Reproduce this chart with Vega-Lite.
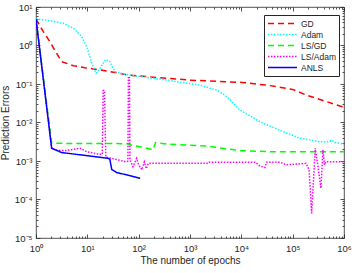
{
  "$schema": "https://vega.github.io/schema/vega-lite/v6.json",
  "width": 308,
  "height": 231,
  "autosize": "none",
  "padding": {"left": 36, "top": 7, "right": 10, "bottom": 35},
  "background": "white",
  "config": {
    "font": "Liberation Sans",
    "view": {"stroke": "#262626", "strokeWidth": 0.8},
    "axis": {"grid": false, "domain": false, "labelColor": "#262626", "titleColor": "#262626", "tickColor": "#262626", "labelFontSize": 9.5, "titleFontSize": 10, "titleFontWeight": "normal", "tickWidth": 0.8}
  },
  "data": {"values": [
    {"s":"GD","x":1,"y":4.9},{"s":"GD","x":1.387,"y":2.29},{"s":"GD","x":1.862,"y":1.259},{"s":"GD","x":2.512,"y":0.631},{"s":"GD","x":3.162,"y":0.38},{"s":"GD","x":5.37,"y":0.2985},{"s":"GD","x":8.91,"y":0.265},{"s":"GD","x":17.78,"y":0.231},{"s":"GD","x":37.15,"y":0.197},{"s":"GD","x":61.66,"y":0.171},{"s":"GD","x":100,"y":0.162},{"s":"GD","x":350.8,"y":0.141},{"s":"GD","x":1000,"y":0.126},{"s":"GD","x":10233,"y":0.11},{"s":"GD","x":31623,"y":0.0933},{"s":"GD","x":100000,"y":0.0724},{"s":"GD","x":186209,"y":0.0513},{"s":"GD","x":831764,"y":0.0269},{"s":"GD","x":1000000,"y":0.0251},
    {"s":"Adam","x":1,"y":4.9},{"s":"Adam","x":1.862,"y":4.42},{"s":"Adam","x":3.388,"y":3.77},{"s":"Adam","x":5.37,"y":2.8},{"s":"Adam","x":7.76,"y":1.698},{"s":"Adam","x":9.77,"y":0.933},{"s":"Adam","x":12.16,"y":0.347},{"s":"Adam","x":14.79,"y":0.1905},{"s":"Adam","x":17.78,"y":0.257},{"s":"Adam","x":22.9,"y":0.437},{"s":"Adam","x":27.5,"y":0.38},{"s":"Adam","x":34.7,"y":0.209},{"s":"Adam","x":43.65,"y":0.1905},{"s":"Adam","x":67.6,"y":0.17},{"s":"Adam","x":354.8,"y":0.126},{"s":"Adam","x":1549,"y":0.0933},{"s":"Adam","x":3311,"y":0.0692},{"s":"Adam","x":5248,"y":0.0468},{"s":"Adam","x":9333,"y":0.0211},{"s":"Adam","x":22909,"y":0.01047},{"s":"Adam","x":56234,"y":0.00631},{"s":"Adam","x":138038,"y":0.00389},{"s":"Adam","x":338844,"y":0.00316},{"s":"Adam","x":501187,"y":0.00316},{"s":"Adam","x":575440,"y":0.00347},{"s":"Adam","x":660693,"y":0.00302},{"s":"Adam","x":1000000,"y":0.00275},
    {"s":"LS/GD","x":1,"y":4.9},{"s":"LS/GD","x":2.02,"y":0.00288},{"s":"LS/GD","x":58.6,"y":0.00282},{"s":"LS/GD","x":67.6,"y":0.00263},{"s":"LS/GD","x":126,"y":0.00224},{"s":"LS/GD","x":190.5,"y":0.00195},{"s":"LS/GD","x":213.8,"y":0.00302},{"s":"LS/GD","x":363,"y":0.00275},{"s":"LS/GD","x":2089,"y":0.00245},{"s":"LS/GD","x":9333,"y":0.00186},{"s":"LS/GD","x":41687,"y":0.00174},{"s":"LS/GD","x":1000000,"y":0.00174},
    {"s":"LS/Adam","x":1,"y":4.9},{"s":"LS/Adam","x":2.02,"y":0.00214},{"s":"LS/Adam","x":2.51,"y":0.0019},{"s":"LS/Adam","x":3.8,"y":0.00186},{"s":"LS/Adam","x":7.24,"y":0.00214},{"s":"LS/Adam","x":9.77,"y":0.00174},{"s":"LS/Adam","x":16.6,"y":0.00151},{"s":"LS/Adam","x":19.5,"y":0.00148},{"s":"LS/Adam","x":20.4,"y":0.0676},{"s":"LS/Adam","x":21.6,"y":0.0676},{"s":"LS/Adam","x":22.9,"y":0.00126},{"s":"LS/Adam","x":27.5,"y":0.0012},{"s":"LS/Adam","x":57.5,"y":0.00095},{"s":"LS/Adam","x":61.7,"y":0.001},{"s":"LS/Adam","x":63.1,"y":0.1445},{"s":"LS/Adam","x":66.1,"y":0.1445},{"s":"LS/Adam","x":67.6,"y":0.00107},{"s":"LS/Adam","x":77.6,"y":0.000708},{"s":"LS/Adam","x":91.2,"y":0.00117},{"s":"LS/Adam","x":100,"y":0.000794},{"s":"LS/Adam","x":114.8,"y":0.000589},{"s":"LS/Adam","x":128.8,"y":0.00095},{"s":"LS/Adam","x":141,"y":0.00063},{"s":"LS/Adam","x":155,"y":0.00087},{"s":"LS/Adam","x":2239,"y":0.00087},{"s":"LS/Adam","x":2344,"y":0.000933},{"s":"LS/Adam","x":18621,"y":0.000933},{"s":"LS/Adam","x":22909,"y":0.000741},{"s":"LS/Adam","x":28840,"y":0.000676},{"s":"LS/Adam","x":30903,"y":0.000933},{"s":"LS/Adam","x":56234,"y":0.000933},{"s":"LS/Adam","x":75858,"y":0.000794},{"s":"LS/Adam","x":181970,"y":0.00087},{"s":"LS/Adam","x":208930,"y":0.000589},{"s":"LS/Adam","x":234423,"y":0.0000437},{"s":"LS/Adam","x":275423,"y":0.00214},{"s":"LS/Adam","x":316228,"y":0.00063},{"s":"LS/Adam","x":354813,"y":0.000195},{"s":"LS/Adam","x":389045,"y":0.00195},{"s":"LS/Adam","x":416869,"y":0.000794},{"s":"LS/Adam","x":436516,"y":0.00095},{"s":"LS/Adam","x":1000000,"y":0.00095},
    {"s":"ANLS","x":1,"y":4.9},{"s":"ANLS","x":2.02,"y":0.00214},{"s":"ANLS","x":3.16,"y":0.00166},{"s":"ANLS","x":25.7,"y":0.00117},{"s":"ANLS","x":27.5,"y":0.0011},{"s":"ANLS","x":29.85,"y":0.000603},{"s":"ANLS","x":37.15,"y":0.000501},{"s":"ANLS","x":67.6,"y":0.000417},{"s":"ANLS","x":107,"y":0.000355}
  ]},
  "layer": [
    {
      "mark": {"type": "line", "clip": true},
      "encoding": {
        "x": {"field": "x", "type": "quantitative", "scale": {"type": "log", "domain": [1, 1000000]},
          "axis": {"orient": "bottom", "values": [1,10,100,1000,10000,100000,1000000], "ticks": false, "labelPadding": 5, "labelFlush": false, "labelOverlap": false,
            "labelExpr": "'10' + (datum.value < 1 ? '⁻' : '') + substring('⁰¹²³⁴⁵⁶⁷⁸⁹', abs(round(log(datum.value)/LN10)), abs(round(log(datum.value)/LN10)) + 1)",
            "title": "The number of epochs", "titlePadding": 3}},
        "y": {"field": "y", "type": "quantitative", "scale": {"type": "log", "domain": [0.00001, 10]},
          "axis": {"orient": "left", "values": [0.00001,0.0001,0.001,0.01,0.1,1,10], "ticks": false, "labelPadding": 4, "labelFlush": false, "labelOverlap": false,
            "labelExpr": "'10' + (datum.value < 1 ? '⁻' : '') + substring('⁰¹²³⁴⁵⁶⁷⁸⁹', abs(round(log(datum.value)/LN10)), abs(round(log(datum.value)/LN10)) + 1)",
            "title": "Prediction Errors", "titlePadding": 4}},
        "color": {"field": "s", "type": "nominal",
          "scale": {"domain": ["GD","Adam","LS/GD","LS/Adam","ANLS"], "range": ["#ff0000","#00ffff","#00ff00","#ff00ff","#0000ff"]},
          "legend": {"title": null, "orient": "none", "legendX": 228, "legendY": 8, "strokeColor": "#262626", "fillColor": "white", "padding": 3, "labelFontSize": 8.5, "labelColor": "#262626", "symbolSize": 841, "symbolStrokeWidth": 1.5, "symbolType": "stroke", "clipHeight": 11, "rowPadding": 0, "labelOffset": 3}},
        "strokeDash": {"field": "s", "type": "nominal",
          "scale": {"domain": ["GD","Adam","LS/GD","LS/Adam","ANLS"], "range": [[6,4],[1.5,1.5],[6,4],[1.5,1.5],[1,0]]},
          "legend": {"title": null}},
        "strokeWidth": {"field": "s", "type": "nominal",
          "scale": {"domain": ["GD","Adam","LS/GD","LS/Adam","ANLS"], "range": [1.5,1.5,1.5,1.5,2]},
          "legend": null}
      }
    },
    {
      "mark": {"type": "point", "opacity": 0},
      "encoding": {
        "x": {"field": "x", "type": "quantitative", "axis": {"orient": "bottom", "values": [1,10,100,1000,10000,100000,1000000], "labels": false, "tickSize": -4, "title": null}},
        "y": {"field": "y", "type": "quantitative", "axis": {"orient": "left", "values": [0.00001,0.0001,0.001,0.01,0.1,1,10], "labels": false, "tickSize": -4, "title": null}}
      }
    },
    {
      "mark": {"type": "point", "opacity": 0},
      "encoding": {
        "x": {"field": "x", "type": "quantitative", "axis": {"orient": "top", "values": [1,10,100,1000,10000,100000,1000000], "labels": false, "tickSize": -4, "title": null}},
        "y": {"field": "y", "type": "quantitative", "axis": {"orient": "right", "values": [0.00001,0.0001,0.001,0.01,0.1,1,10], "labels": false, "tickSize": -4, "title": null}}
      }
    },
    {
      "mark": {"type": "point", "opacity": 0},
      "encoding": {
        "x": {"field": "x", "type": "quantitative", "axis": {"orient": "bottom", "values": [2,3,4,5,6,7,8,9,20,30,40,50,60,70,80,90,200,300,400,500,600,700,800,900,2000,3000,4000,5000,6000,7000,8000,9000,20000,30000,40000,50000,60000,70000,80000,90000,200000,300000,400000,500000,600000,700000,800000,900000], "labels": false, "tickSize": -2, "title": null}},
        "y": {"field": "y", "type": "quantitative", "axis": {"orient": "left", "values": [0.00002,0.00003,0.00004,0.00005,0.00006,0.00007,0.00008,0.00009,0.0002,0.0003,0.0004,0.0005,0.0006,0.0007,0.0008,0.0009,0.002,0.003,0.004,0.005,0.006,0.007,0.008,0.009,0.02,0.03,0.04,0.05,0.06,0.07,0.08,0.09,0.2,0.3,0.4,0.5,0.6,0.7,0.8,0.9,2,3,4,5,6,7,8,9], "labels": false, "tickSize": -2, "title": null}}
      }
    },
    {
      "mark": {"type": "point", "opacity": 0},
      "encoding": {
        "x": {"field": "x", "type": "quantitative", "axis": {"orient": "top", "values": [2,3,4,5,6,7,8,9,20,30,40,50,60,70,80,90,200,300,400,500,600,700,800,900,2000,3000,4000,5000,6000,7000,8000,9000,20000,30000,40000,50000,60000,70000,80000,90000,200000,300000,400000,500000,600000,700000,800000,900000], "labels": false, "tickSize": -2, "title": null}},
        "y": {"field": "y", "type": "quantitative", "axis": {"orient": "right", "values": [0.00002,0.00003,0.00004,0.00005,0.00006,0.00007,0.00008,0.00009,0.0002,0.0003,0.0004,0.0005,0.0006,0.0007,0.0008,0.0009,0.002,0.003,0.004,0.005,0.006,0.007,0.008,0.009,0.02,0.03,0.04,0.05,0.06,0.07,0.08,0.09,0.2,0.3,0.4,0.5,0.6,0.7,0.8,0.9,2,3,4,5,6,7,8,9], "labels": false, "tickSize": -2, "title": null}}
      }
    }
  ],
  "resolve": {"axis": {"x": "independent", "y": "independent"}}
}
